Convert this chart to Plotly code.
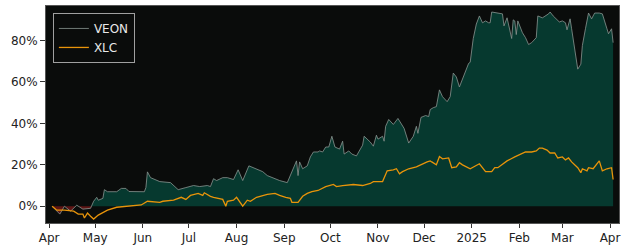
import numpy as np
import pandas as pd
import plotly.graph_objects as go

# ---------------- data (cumulative return, %) ----------------
veon_dates = [
    "2024-04-03", "2024-04-08", "2024-04-11", "2024-04-15", "2024-04-19", "2024-04-23",
    "2024-04-28", "2024-04-30", "2024-05-02", "2024-05-03", "2024-05-06", "2024-05-07",
    "2024-05-09", "2024-05-15", "2024-05-18", "2024-05-21", "2024-05-23", "2024-06-02",
    "2024-06-03", "2024-06-04", "2024-06-06", "2024-06-12", "2024-06-19", "2024-06-24",
    "2024-06-29", "2024-07-04", "2024-07-08", "2024-07-13", "2024-07-15", "2024-07-17",
    "2024-07-19", "2024-07-23", "2024-07-26", "2024-07-30", "2024-08-02", "2024-08-05",
    "2024-08-09", "2024-08-13", "2024-08-18", "2024-08-21", "2024-08-26", "2024-08-29",
    "2024-09-03", "2024-09-05", "2024-09-09", "2024-09-10", "2024-09-11", "2024-09-13",
    "2024-09-16", "2024-09-18", "2024-09-20", "2024-09-23", "2024-09-24", "2024-09-26",
    "2024-09-28", "2024-09-30", "2024-10-02", "2024-10-04", "2024-10-07", "2024-10-09",
    "2024-10-10", "2024-10-13", "2024-10-15", "2024-10-18", "2024-10-22", "2024-10-23",
    "2024-10-27", "2024-10-29", "2024-10-31", "2024-11-01", "2024-11-04", "2024-11-05",
    "2024-11-06", "2024-11-08", "2024-11-11", "2024-11-14", "2024-11-17", "2024-11-18",
    "2024-11-21", "2024-11-24", "2024-11-26", "2024-11-27", "2024-11-29", "2024-12-02",
    "2024-12-04", "2024-12-05", "2024-12-07", "2024-12-09", "2024-12-11", "2024-12-13",
    "2024-12-16", "2024-12-18", "2024-12-20", "2024-12-22", "2024-12-24", "2024-12-28",
    "2024-12-30", "2024-12-31", "2025-01-02", "2025-01-04", "2025-01-06", "2025-01-08",
    "2025-01-10", "2025-01-12", "2025-01-13", "2025-01-14", "2025-01-17", "2025-01-21",
    "2025-01-22", "2025-01-24", "2025-01-27", "2025-01-28", "2025-01-29", "2025-01-30",
    "2025-01-31", "2025-02-03", "2025-02-05", "2025-02-07", "2025-02-09", "2025-02-12",
    "2025-02-13", "2025-02-16", "2025-02-20", "2025-02-21", "2025-02-23", "2025-02-25",
    "2025-02-27", "2025-03-01", "2025-03-03", "2025-03-04", "2025-03-06", "2025-03-07",
    "2025-03-09", "2025-03-11", "2025-03-13", "2025-03-14", "2025-03-16", "2025-03-18",
    "2025-03-20", "2025-03-22", "2025-03-25", "2025-03-27", "2025-03-30", "2025-03-31",
    "2025-04-02", "2025-04-03",
]
veon_values = [
    0.0, -3.8, 0.0, -2.4, 0.5, -1.4,
    -1.0, 2.4, 4.3, 2.9, 3.8, 8.0,
    7.0, 7.0, 8.6, 8.6, 7.1, 7.0,
    9.0, 16.6, 13.8, 11.9, 11.4, 8.0,
    9.0, 10.0, 9.5, 10.0, 9.5, 13.3,
    12.4, 13.8, 13.8, 12.9, 17.6, 12.4,
    19.5, 18.1, 16.7, 14.8, 13.3, 12.4,
    11.4, 14.8, 21.9, 14.8, 21.4, 18.1,
    19.5, 23.8, 26.2, 26.2, 26.7, 26.2,
    28.6, 28.6, 33.8, 28.6, 27.6, 31.4,
    25.2, 26.7, 25.2, 24.3, 29.5, 33.8,
    31.0, 29.0, 34.3, 32.4, 33.8, 31.4,
    38.6, 41.9, 39.5, 42.4, 38.6, 37.6,
    30.5, 33.8, 38.6, 35.2, 42.9, 43.8,
    43.3, 46.7, 47.6, 48.1, 56.2, 52.9,
    50.5, 52.9, 64.3, 62.4, 57.6, 64.8,
    69.0, 69.5, 81.0, 88.0, 91.9, 88.6,
    89.5, 88.6, 88.6, 93.8, 93.3, 92.9,
    87.1, 91.0, 81.0, 90.0, 89.5, 82.9,
    89.5, 83.8, 81.4, 78.1, 79.0, 81.4,
    91.9, 91.0, 92.9, 93.8, 91.9, 90.5,
    89.0, 89.5, 88.6, 85.2, 90.5, 85.7,
    76.2, 66.2, 68.6, 77.6, 85.7, 93.3,
    90.5, 93.3, 93.3, 92.9, 85.7, 83.3,
    85.7, 79.0,
]

xlc_dates = [
    "2024-04-03", "2024-04-06", "2024-04-11", "2024-04-17", "2024-04-20", "2024-04-23",
    "2024-04-24", "2024-04-26", "2024-04-28", "2024-04-30", "2024-05-03", "2024-05-09",
    "2024-05-15", "2024-05-21", "2024-05-26", "2024-05-31", "2024-06-04", "2024-06-12",
    "2024-06-14", "2024-06-21", "2024-06-26", "2024-06-29", "2024-07-02", "2024-07-04",
    "2024-07-07", "2024-07-10", "2024-07-11", "2024-07-15", "2024-07-17", "2024-07-23",
    "2024-07-25", "2024-07-26", "2024-07-30", "2024-08-01", "2024-08-05", "2024-08-08",
    "2024-08-10", "2024-08-14", "2024-08-18", "2024-08-21", "2024-08-26", "2024-08-29",
    "2024-09-02", "2024-09-05", "2024-09-06", "2024-09-10", "2024-09-13", "2024-09-16",
    "2024-09-19", "2024-09-23", "2024-09-28", "2024-10-01", "2024-10-03", "2024-10-05",
    "2024-10-09", "2024-10-16", "2024-10-22", "2024-10-27", "2024-10-29", "2024-11-04",
    "2024-11-06", "2024-11-07", "2024-11-11", "2024-11-13", "2024-11-15", "2024-11-17",
    "2024-11-21", "2024-11-26", "2024-12-03", "2024-12-05", "2024-12-06", "2024-12-09",
    "2024-12-11", "2024-12-13", "2024-12-17", "2024-12-19", "2024-12-22", "2024-12-24",
    "2024-12-26", "2024-12-31", "2025-01-06", "2025-01-10", "2025-01-14", "2025-01-16",
    "2025-01-18", "2025-01-24", "2025-01-29", "2025-02-03", "2025-02-05", "2025-02-09",
    "2025-02-12", "2025-02-14", "2025-02-16", "2025-02-19", "2025-02-21", "2025-02-24",
    "2025-02-26", "2025-03-01", "2025-03-03", "2025-03-05", "2025-03-07", "2025-03-11",
    "2025-03-13", "2025-03-14", "2025-03-17", "2025-03-18", "2025-03-21", "2025-03-25",
    "2025-03-27", "2025-03-30", "2025-04-02", "2025-04-03",
]
xlc_values = [
    0.0, -1.9, -1.9, -2.4, -3.8, -3.8,
    -5.7, -3.3, -4.8, -6.2, -4.3, -1.9,
    -0.5, 0.0, 0.3, 0.6, 2.4, 1.9,
    2.4, 2.9, 4.3, 3.3, 5.2, 5.7,
    6.2, 5.2, 6.5, 4.8, 4.3, 3.3,
    0.0, 2.4, 2.9, 4.3, 0.0, 2.9,
    2.4, 4.3, 5.2, 5.7, 6.2, 5.2,
    4.3, 3.8, 1.9, 1.9, 4.8, 6.2,
    7.1, 7.6, 9.5, 10.0, 10.5, 9.5,
    10.0, 10.5, 10.0, 11.0, 11.9, 11.9,
    15.7, 17.1, 17.6, 18.1, 15.7, 16.7,
    18.1, 19.0, 21.4, 21.9, 21.4, 20.0,
    24.0, 22.9, 23.3, 18.6, 19.0, 21.0,
    20.0, 18.1, 20.5, 16.7, 16.7, 18.6,
    18.6, 21.9, 23.8, 25.7, 26.2, 26.2,
    26.7, 28.1, 28.1, 27.1, 25.7, 25.7,
    23.3, 23.8, 22.4, 23.3, 21.4, 18.6,
    16.2, 18.1, 17.1, 18.6, 18.1, 21.9,
    17.1, 18.1, 18.6, 12.9,
]

tick_dates = ["2024-04-01", "2024-05-01", "2024-06-01", "2024-07-01", "2024-08-01",
              "2024-09-01", "2024-10-01", "2024-11-01", "2024-12-01", "2025-01-01",
              "2025-02-01", "2025-03-01", "2025-04-01"]
tick_labels = ["Apr", "May", "Jun", "Jul", "Aug", "Sep", "Oct", "Nov", "Dec", "2025",
               "Feb", "Mar", "Apr"]
y_ticks = [0, 20, 40, 60, 80]
y_tick_labels = ["0%", "20%", "40%", "60%", "80%"]

# ---------------- styling ----------------
BG = "#0a0c0b"
GREEN = "#06392f"
RED = "#5c1414"
GRAY = "#8a9692"
ORANGE = "#e8940a"


def split_at_zero(dates, vals):
    ts = pd.to_datetime(dates)
    xs, ys = [ts[0]], [vals[0]]
    for i in range(1, len(vals)):
        y0, y1 = vals[i - 1], vals[i]
        if y0 * y1 < 0:
            f = y0 / (y0 - y1)
            xs.append(ts[i - 1] + (ts[i] - ts[i - 1]) * f)
            ys.append(0.0)
        xs.append(ts[i])
        ys.append(vals[i])
    return xs, np.array(ys)


vx, vy = split_at_zero(veon_dates, veon_values)

fig = go.Figure()
fig.add_trace(go.Scatter(x=vx, y=np.maximum(vy, 0), mode="lines", line=dict(width=0),
                         fill="tozeroy", fillcolor=GREEN, showlegend=False, hoverinfo="skip"))
fig.add_trace(go.Scatter(x=vx, y=np.minimum(vy, 0), mode="lines", line=dict(width=0),
                         fill="tozeroy", fillcolor=RED, showlegend=False, hoverinfo="skip"))
fig.add_trace(go.Scatter(x=pd.to_datetime(veon_dates), y=veon_values, mode="lines",
                         name="VEON", line=dict(color=GRAY, width=0.8)))
fig.add_trace(go.Scatter(x=pd.to_datetime(xlc_dates), y=xlc_values, mode="lines",
                         name="XLC", line=dict(color=ORANGE, width=1.3)))

fig.update_layout(
    width=625, height=250,
    margin=dict(l=46, r=6, t=5, b=25),
    paper_bgcolor="white", plot_bgcolor=BG,
    font=dict(family="DejaVu Sans", size=12, color="#222"),
    legend=dict(x=0.012, y=0.968, xanchor="left", yanchor="top",
                bgcolor=BG, bordercolor="#a0a0a0", borderwidth=1,
                font=dict(color="#e8e8e8", size=12), itemwidth=30,
                tracegroupgap=0),
    xaxis=dict(range=["2024-03-30", "2025-04-06 20:00"], tickmode="array",
               tickvals=tick_dates, ticktext=tick_labels, showgrid=False,
               ticks="outside", ticklen=4, tickcolor="#333", zeroline=False,
               showline=True, linecolor="#555", mirror=True),
    yaxis=dict(range=[-8.1, 96.7], tickmode="array", tickvals=y_ticks,
               ticktext=y_tick_labels, showgrid=False, ticks="outside", ticklen=5,
               tickcolor="#333", zeroline=False, showline=True, linecolor="#555",
               mirror=True),
)

fig.write_html("out.html")
